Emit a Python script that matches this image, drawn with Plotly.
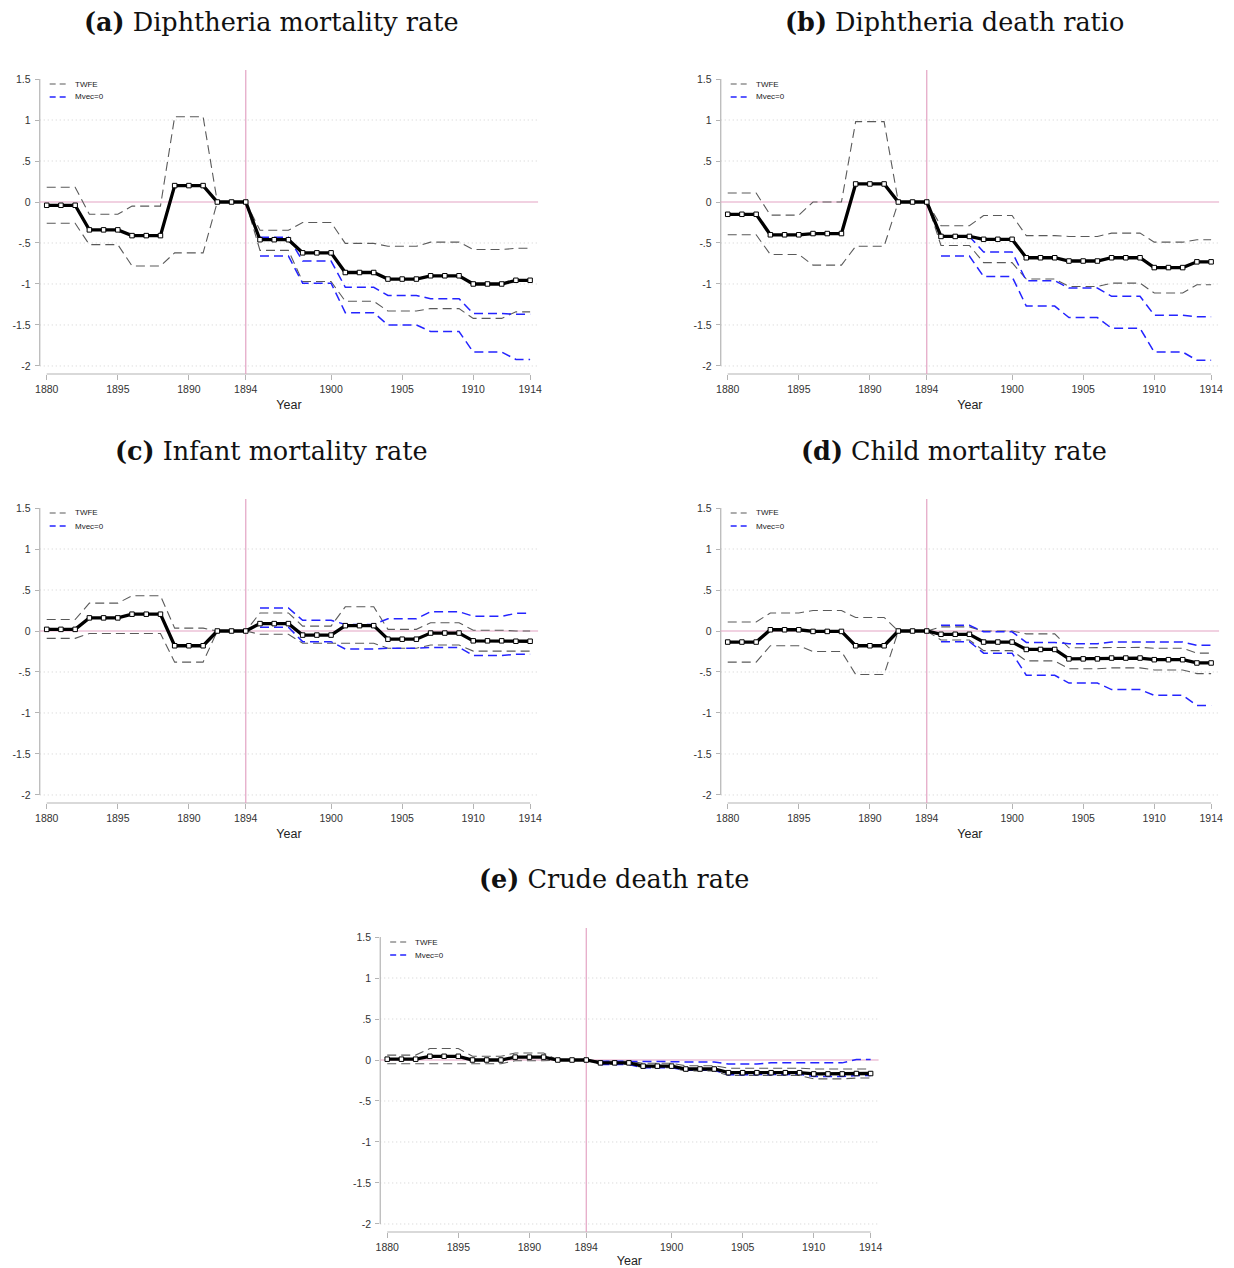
import plotly.graph_objects as go

W, H = 1234, 1268

# ---------------- data ----------------
years = list(range(1880, 1915))
# 3-year event-time bin that each year belongs to
bin_of_year = [0, 0, 0, 1, 1, 1, 2, 2, 2, 3, 3, 3, 4, 4, 4, 5, 5, 5, 6, 6, 6,
               7, 7, 7, 8, 8, 8, 9, 9, 9, 10, 10, 10, 11, 11]
post_start_year = 1895

x_tickvals = [1880, 1885, 1890, 1894, 1900, 1905, 1910, 1914]
x_ticktext = ["1880", "1895", "1890", "1894", "1900", "1905", "1910", "1914"]
y_tickvals = [1.5, 1, 0.5, 0, -0.5, -1, -1.5, -2]
y_ticktext = ["1.5", "1", ".5", "0", "-.5", "-1", "-1.5", "-2"]
grid_vals = [1, 0.5, -0.5, -1, -1.5, -2]

titles = ["<b>(a)</b> Diphtheria mortality rate",
          "<b>(b)</b> Diphtheria death ratio",
          "<b>(c)</b> Infant mortality rate",
          "<b>(d)</b> Child mortality rate",
          "<b>(e)</b> Crude death rate"]
legend_labels = ["TWFE", "Mvec=0"]

# point estimates (per bin)
a_est = [-0.04, -0.34, -0.41, 0.20, 0.0, -0.46, -0.62, -0.86, -0.94, -0.90, -1.00, -0.955]
b_est = [-0.15, -0.40, -0.385, 0.22, 0.0, -0.42, -0.455, -0.68, -0.72, -0.68, -0.80, -0.73]
c_est = [0.02, 0.16, 0.205, -0.18, 0.0, 0.09, -0.05, 0.065, -0.10, -0.025, -0.12, -0.125]
d_est = [-0.135, 0.015, -0.005, -0.18, 0.0, -0.04, -0.135, -0.225, -0.34, -0.33, -0.35, -0.39]
e_est = [0.01, 0.045, 0.0, 0.035, 0.0, -0.035, -0.075, -0.11, -0.155, -0.155, -0.17, -0.165]

# TWFE confidence bands
a_twfe_hi = [0.18, -0.15, -0.05, 1.04, 0.0, -0.345, -0.25, -0.505, -0.54, -0.49, -0.58, -0.565]
a_twfe_lo = [-0.26, -0.52, -0.78, -0.62, 0.0, -0.59, -0.97, -1.21, -1.33, -1.30, -1.42, -1.34]
b_twfe_hi = [0.11, -0.16, 0.0, 0.98, 0.0, -0.29, -0.165, -0.41, -0.42, -0.38, -0.49, -0.46]
b_twfe_lo = [-0.40, -0.64, -0.77, -0.54, 0.0, -0.53, -0.74, -0.94, -1.03, -0.99, -1.11, -1.01]
c_twfe_hi = [0.14, 0.34, 0.43, 0.035, 0.0, 0.22, 0.06, 0.295, 0.02, 0.10, 0.01, 0.0]
c_twfe_lo = [-0.09, -0.03, -0.03, -0.38, 0.0, -0.04, -0.15, -0.15, -0.21, -0.17, -0.245, -0.245]
d_twfe_hi = [0.11, 0.22, 0.25, 0.165, 0.0, 0.05, 0.0, -0.035, -0.205, -0.20, -0.21, -0.27]
d_twfe_lo = [-0.38, -0.18, -0.25, -0.53, 0.0, -0.11, -0.24, -0.365, -0.46, -0.45, -0.475, -0.52]
e_twfe_hi = [0.06, 0.14, 0.045, 0.085, 0.0, -0.015, -0.04, -0.07, -0.10, -0.10, -0.11, -0.11]
e_twfe_lo = [-0.045, -0.045, -0.045, -0.01, 0.0, -0.055, -0.095, -0.135, -0.19, -0.19, -0.23, -0.22]

# Mvec=0 bands (post-period bins only)
a_mvec_hi = [None] * 5 + [-0.43, -0.72, -1.04, -1.14, -1.18, -1.36, -1.37]
a_mvec_lo = [None] * 5 + [-0.66, -0.99, -1.35, -1.50, -1.58, -1.83, -1.92]
b_mvec_hi = [None] * 5 + [-0.42, -0.61, -0.96, -1.05, -1.15, -1.38, -1.40]
b_mvec_lo = [None] * 5 + [-0.66, -0.91, -1.27, -1.41, -1.54, -1.83, -1.93]
c_mvec_hi = [None] * 5 + [0.28, 0.13, 0.08, 0.15, 0.235, 0.18, 0.215]
c_mvec_lo = [None] * 5 + [0.045, -0.13, -0.22, -0.21, -0.20, -0.30, -0.285]
d_mvec_hi = [None] * 5 + [0.07, -0.01, -0.14, -0.155, -0.135, -0.135, -0.175]
d_mvec_lo = [None] * 5 + [-0.13, -0.27, -0.54, -0.635, -0.715, -0.785, -0.91]
e_mvec_hi = [None] * 5 + [-0.015, -0.02, -0.025, -0.05, -0.035, -0.035, 0.005]
e_mvec_lo = [None] * 5 + [-0.055, -0.095, -0.125, -0.18, -0.175, -0.20, -0.19]

panels_data = [
    (a_est, a_twfe_hi, a_twfe_lo, a_mvec_hi, a_mvec_lo),
    (b_est, b_twfe_hi, b_twfe_lo, b_mvec_hi, b_mvec_lo),
    (c_est, c_twfe_hi, c_twfe_lo, c_mvec_hi, c_mvec_lo),
    (d_est, d_twfe_hi, d_twfe_lo, d_mvec_hi, d_mvec_lo),
    (e_est, e_twfe_hi, e_twfe_lo, e_mvec_hi, e_mvec_lo),
]

# ---------------- layout geometry (pixels) ----------------
# (left, right, top, bottom) of each plotting area, title centre (x, y)
geom = [
    (35, 537, 70, 374, 268, 22),
    (721, 1223, 70, 374, 956, 22),
    (35, 537, 499, 803, 268, 451),
    (721, 1223, 499, 803, 956, 451),
    (378, 880, 928, 1232, 613, 879),
]
x_range = [1879.51, 1914.56]
y_range = [-2.098, 1.61]

PINK = "#e3a3c3"
GRAY_DASH = "#5a5a5a"
BLUE = "#2424ff"
AXIS_GRAY = "#b4b4b4"
GRID = "#d0d0d0"
SANS = "Liberation Sans, Arial, sans-serif"
TICK_FONT = dict(family=SANS, size=10.5, color="#333333")
DASH = "9px,5px"


def by_year(bin_values, post_only=False):
    xs, ys = [], []
    for yr, b in zip(years, bin_of_year):
        if post_only and yr < post_start_year:
            continue
        xs.append(yr)
        ys.append(bin_values[b])
    return xs, ys


def px_x(p):
    return p / W


def px_y(p):
    return 1 - p / H


fig = go.Figure()
layout = dict(
    width=W, height=H,
    margin=dict(l=0, r=0, t=0, b=0),
    paper_bgcolor="white", plot_bgcolor="white",
    showlegend=False,
)
shapes = []
annotations = []

for i, (data, g) in enumerate(zip(panels_data, geom), start=1):
    est, thi, tlo, mhi, mlo = data
    left, right, top, bottom, tx, ty = g
    sfx = "" if i == 1 else str(i)
    xa, ya = "x" + sfx, "y" + sfx

    for vals, name, color, post in [
        (thi, "TWFE", GRAY_DASH, False),
        (tlo, "TWFE", GRAY_DASH, False),
        (mhi, "Mvec=0", BLUE, True),
        (mlo, "Mvec=0", BLUE, True),
    ]:
        xs, ys = by_year(vals, post_only=post)
        fig.add_trace(go.Scatter(
            x=xs, y=ys, mode="lines", name=name,
            line=dict(color=color, width=1.1 if color == GRAY_DASH else 1.5, dash=DASH),
            xaxis=xa, yaxis=ya, hoverinfo="skip",
        ))
    xs, ys = by_year(est)
    fig.add_trace(go.Scatter(
        x=xs, y=ys, mode="lines+markers", name="Estimate",
        line=dict(color="black", width=3.3),
        marker=dict(symbol="square", size=4.5, color="white",
                    line=dict(color="black", width=1)),
        xaxis=xa, yaxis=ya,
    ))

    layout["xaxis" + sfx] = dict(
        domain=[px_x(left), px_x(right)], range=x_range, anchor=ya,
        tickvals=x_tickvals, ticktext=x_ticktext, ticks="outside",
        ticklen=5, tickcolor=AXIS_GRAY, tickfont=TICK_FONT,
        showgrid=False, zeroline=False, showline=False,
        title=dict(text="Year", font=dict(family=SANS, size=12.5, color="#222222"), standoff=6),
    )
    layout["yaxis" + sfx] = dict(
        domain=[px_y(bottom), px_y(top)], range=y_range, anchor=xa,
        tickvals=y_tickvals, ticktext=y_ticktext, ticks="outside",
        ticklen=4, tickcolor=AXIS_GRAY, tickfont=TICK_FONT, ticklabelstandoff=2,
        showgrid=False, zeroline=False, showline=False,
    )

    xd, yd = xa + " domain", ya + " domain"
    for gv in grid_vals:
        shapes.append(dict(type="line", xref=xd, yref=ya, x0=0, x1=1, y0=gv, y1=gv,
                           line=dict(color=GRID, width=1, dash="1px,3px"), layer="below"))
    # axis lines
    shapes.append(dict(type="line", xref=xd, yref=ya, x0=0, x1=0, y0=-2, y1=1.5,
                       line=dict(color=AXIS_GRAY, width=1.2), layer="below"))
    shapes.append(dict(type="line", xref=xa, yref=yd, x0=1880, x1=1914, y0=0, y1=0,
                       line=dict(color=AXIS_GRAY, width=1.2), layer="below"))
    # reference lines
    shapes.append(dict(type="line", xref=xd, yref=ya, x0=0, x1=1, y0=0, y1=0,
                       line=dict(color=PINK, width=1.2), layer="below"))
    shapes.append(dict(type="line", xref=xa, yref=yd, x0=1894, x1=1894, y0=0, y1=1,
                       line=dict(color=PINK, width=1.2), layer="below"))

    # legend (drawn in the Stata style: short sample + small label)
    for k, (lab, col, lw) in enumerate(zip(legend_labels, [GRAY_DASH, BLUE], [1.1, 1.5])):
        yy = top + 14 + 13 * k
        shapes.append(dict(type="line", xref="paper", yref="paper",
                           x0=px_x(left + 10), x1=px_x(left + 27), y0=px_y(yy), y1=px_y(yy),
                           line=dict(color=col, width=lw, dash="6px,4px")))
        annotations.append(dict(
            text=lab, x=px_x(left + 33), y=px_y(yy), xref="paper", yref="paper",
            xanchor="left", yanchor="middle", showarrow=False,
            font=dict(family=SANS, size=8, color="#222222"),
        ))

    annotations.append(dict(
        text=titles[i - 1], x=px_x(tx), y=px_y(ty), xref="paper", yref="paper",
        xanchor="center", yanchor="middle", showarrow=False,
        font=dict(family="DejaVu Serif, Liberation Serif, serif", size=25.5, color="#111111"),
    ))

layout["shapes"] = shapes
layout["annotations"] = annotations
fig.update_layout(**layout)
fig.write_html("out.html",
               config={"displayModeBar": False},
               post_script="document.body.style.margin='0';document.body.style.overflow='hidden';")
